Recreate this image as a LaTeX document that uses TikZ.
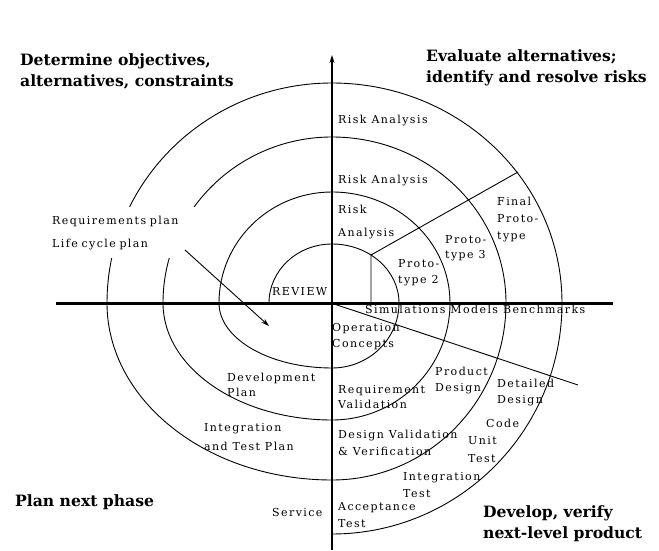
\documentclass[tikz,border=0pt]{standalone}
\usepackage{fontspec}
\setmainfont{DejaVu Serif}
\newfontfamily\lblfont[LetterSpace=13]{DejaVu Serif}
\usetikzlibrary{arrows.meta}

% multi-line nodes are placed by the baseline of their last line
% (nodes with a text width: by the baseline of their first line)
\tikzset{
  lbl/.style={font=\lblfont\fontsize{11}{#1}\selectfont, inner sep=0pt,
              anchor=base west, align=left},
  lbl/.default=16.5,
  head/.style={font=\bfseries\fontsize{15.6}{21}\selectfont, inner sep=0pt,
               anchor=base west, align=left},
  spiral/.style={line width=0.9pt},
  axisline/.style={line width=1.3pt},
  baseline axis/.style={line width=3pt},
  thinline/.style={line width=0.9pt},
  tip/.style={-{Stealth[length=8pt,width=5pt]}},
}

\begin{document}
\begin{tikzpicture}[x=1pt,y=1pt]
  \path[fill=white, use as bounding box] (0,0) rectangle (659,550);

  % reference points
  \coordinate (O) at (332,247);
  \coordinate (vbot) at (332,0);
  \coordinate (vtop) at (332,495);
  \coordinate (hl) at (56,247);
  \coordinate (hr) at (613,247);
  \coordinate (p1) at (371,247);
  \coordinate (p2) at (371,295);
  \coordinate (p3) at (518,378);
  \coordinate (d1) at (334,246);
  \coordinate (d2) at (578,165);
  \coordinate (a1) at (185,300);
  \coordinate (a2) at (269,224);
  \coordinate (s0) at (269,247);

  % the spiral, one quarter at a time
  \draw[spiral] (s0)
    arc[start angle=180,end angle=90,x radius=63,y radius=59]
    arc[start angle=90,end angle=0,x radius=67,y radius=59]
    arc[start angle=0,end angle=-90,x radius=67,y radius=65]
    arc[start angle=-90,end angle=-180,x radius=113,y radius=65]
    arc[start angle=180,end angle=90,x radius=113,y radius=111]
    arc[start angle=90,end angle=0,x radius=118,y radius=111]
    arc[start angle=0,end angle=-90,x radius=118,y radius=117]
    arc[start angle=-90,end angle=-180,x radius=169,y radius=117]
    arc[start angle=180,end angle=90,x radius=169,y radius=166]
    arc[start angle=90,end angle=0,x radius=174,y radius=166]
    arc[start angle=0,end angle=-90,x radius=174,y radius=177]
    arc[start angle=-90,end angle=-180,x radius=225,y radius=177]
    arc[start angle=180,end angle=90,x radius=225,y radius=220]
    arc[start angle=90,end angle=0,x radius=230,y radius=220]
    arc[start angle=0,end angle=-90,x radius=230,y radius=231];

  % planning label, set on white over the spiral
  \node[lbl=23, fill=white, inner xsep=4pt, inner ysep=8.5pt, text width=140pt]
    (reqplan) at (48,326) {Requirements plan\\Life cycle plan};
  \draw[thinline, tip] (a1) -- (a2);

  % axes
  \draw[axisline, tip] (vbot) -- (vtop);
  \draw[baseline axis] (hl) -- (hr);

  % prototype divider and development divider
  \draw[thinline] (p1) -- (p2) -- (p3);
  \draw[thinline] (d1) -- (d2);

  % quadrant headings
  \node[head] (q1) at (20,463) {Determine objectives,\\alternatives, constraints};
  \node[head] (q2) at (426,467) {Evaluate alternatives;\\identify and resolve risks};
  \node[head] (q3) at (15,44) {Plan next phase};
  \node[head] (q4) at (483,12) {Develop, verify\\next-level product};

  % risk analysis
  \node[lbl] (ra1) at (338,426) {Risk Analysis};
  \node[lbl] (ra2) at (338,366) {Risk Analysis};
  \node[lbl=23] (ra3) at (338,313) {Risk\\Analysis};

  % prototypes
  \node[lbl=16] (pt2) at (398,267) {Proto-\\type 2};
  \node[lbl=16] (pt3) at (445,291) {Proto-\\type 3};
  \node[lbl=16.5] (ptf) at (497,311) {Final\\Proto-\\type};
  \node[lbl] (rev) at (272,255) {REVIEW};
  \node[lbl] (smb) at (365,237) {Simulations Models Benchmarks};

  % development steps
  \node[lbl=16] (opc) at (332,203) {Operation\\Concepts};
  \node[lbl=16] (prd) at (435,159) {Product\\Design};
  \node[lbl=15] (rqv) at (338,142) {Requirement\\Validation};
  \node[lbl=16] (dtd) at (497,147) {Detailed\\Design};
  \node[lbl] (code) at (486,123) {Code};
  \node[lbl=18] (ut) at (468,88) {Unit\\Test};
  \node[lbl=17] (dvv) at (338,95) {Design Validation\\\& Verification};
  \node[lbl=17] (itt) at (403,53) {Integration\\Test};
  \node[lbl=17] (act) at (338,23) {Acceptance\\Test};
  \node[lbl] (svc) at (272,34) {Service};

  % plans
  \node[lbl=15] (dvp) at (227,154) {Development\\Plan};
  \node[lbl=19] (itp) at (204,100) {Integration\\and Test Plan};
\end{tikzpicture}
\end{document}
